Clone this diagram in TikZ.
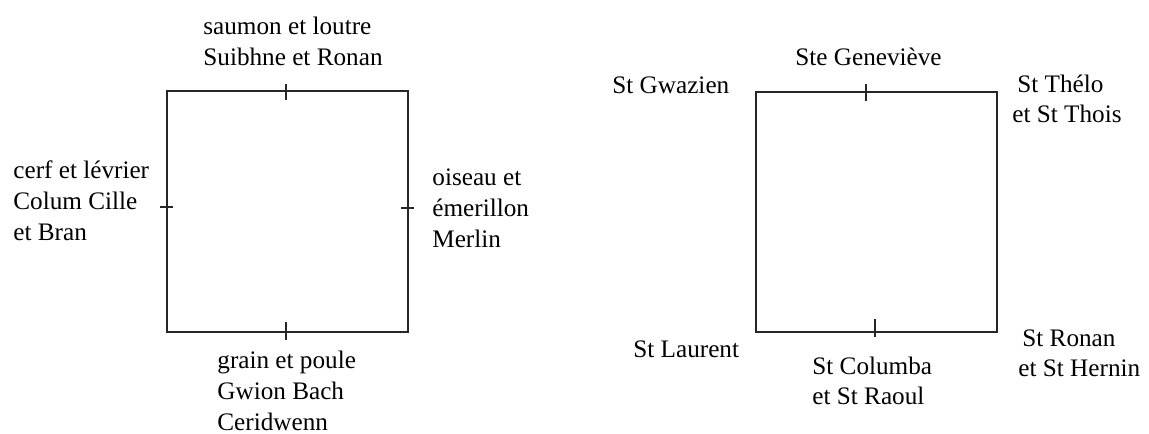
\documentclass[tikz,border=0pt]{standalone}
\usepackage{fontspec}
\setmainfont{Liberation Serif}
\usetikzlibrary{positioning,calc}

\begin{document}
\begin{tikzpicture}[
    x=0.5pt, y=-0.5pt,
    lbl/.style={anchor=base west, inner sep=0pt, align=left,
                font=\fontsize{12.6}{15}\selectfont},
    lblwide/.style={lbl, font=\fontsize{12.6}{15.5}\selectfont},
    frame/.style={draw=black!85, line width=1pt},
    tickmark/.style={draw=black!85, line width=1pt}
]
    \useasboundingbox (0,0) rectangle (1149,433);

    % Left square: the four transformations
    \draw[frame] (167,91) rectangle (408,332);
    \draw[tickmark] (286,84) -- (286,100);
    \draw[tickmark] (286,322) -- (286,340);
    \draw[tickmark] (160,207) -- (173,207);
    \draw[tickmark] (401,208) -- (414,208);

    % (base anchor sits on the last line)
    \node[lblwide] (top1) at (203,66) {saumon et loutre\\Suibhne et Ronan};
    \node[lblwide] (west1) at (13,240) {cerf et lévrier\\Colum Cille\\et Bran};
    \node[lblwide] (east1) at (432,247) {oiseau et\\émerillon\\Merlin};
    \node[lblwide] (south1) at (217,430) {grain et poule\\Gwion Bach\\Ceridwenn};

    % Right square: the saints
    \draw[frame] (756,92) rectangle (997,332);
    \draw[tickmark] (866,84) -- (866,101);
    \draw[tickmark] (875,319) -- (875,337);

    \node[lbl] (top2) at (795,66) {Ste Geneviève};
    \node[lbl] (nw2) at (612,93) {St Gwazien};
    \node[lbl] (ne2) at (1012,122) {\hspace{2.5pt}St Thélo\\et St Thois};
    \node[lbl] (sw2) at (633,357) {St Laurent};
    \node[lbl] (south2) at (812,404) {St Columba\\et St Raoul};
    \node[lbl] (se2) at (1018,376) {\hspace{2pt}St Ronan\\et St Hernin};
\end{tikzpicture}
\end{document}
